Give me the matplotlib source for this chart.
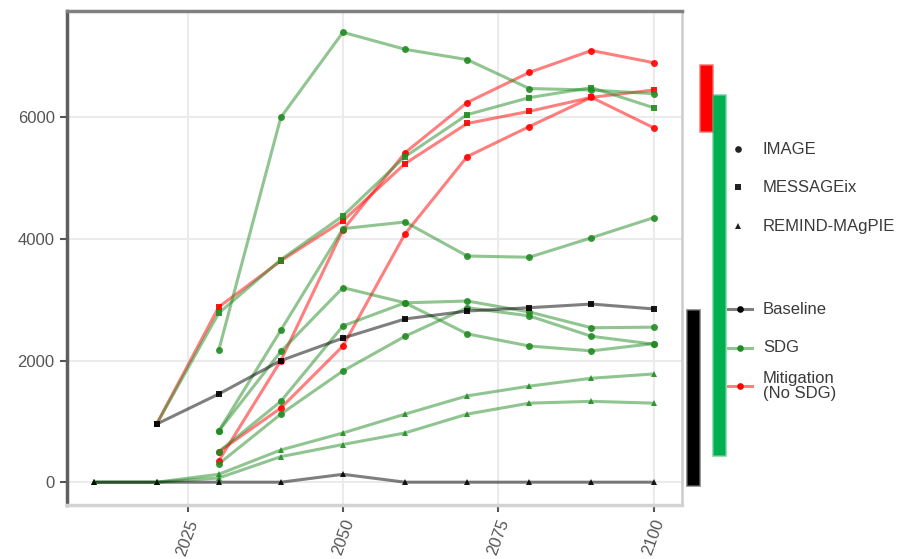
import numpy as np
import matplotlib
matplotlib.use("Agg")
import matplotlib.pyplot as plt
from matplotlib.lines import Line2D
from matplotlib.patches import Rectangle

plt.rcParams['font.family'] = ['Liberation Sans', 'DejaVu Sans']

nan = np.nan
years = [2010, 2020, 2030, 2040, 2050, 2060, 2070, 2080, 2090, 2100]

# Baseline runs
message_baseline = [nan, 955, 1450, 2000, 2370, 2685, 2815, 2870, 2930, 2850]
remind_baseline = [0, 0, 0, 0, 130, 0, 0, 0, 0, 0]

# SDG runs
message_sdg = [nan, 955, 2780, 3660, 4380, 5355, 6045, 6325, 6490, 6160]
remind_sdg_1 = [0, 0, 130, 530, 810, 1120, 1420, 1580, 1710, 1780]
remind_sdg_2 = [0, 0, 70, 420, 620, 810, 1120, 1300, 1330, 1300]
image_sdg_1 = [nan, nan, 2170, 6000, 7400, 7120, 6950, 6475, 6450, 6390]
image_sdg_2 = [nan, nan, 840, 2500, 4170, 4280, 3720, 3700, 4020, 4350]
image_sdg_3 = [nan, nan, 840, 2150, 3200, 2950, 2440, 2240, 2160, 2280]
image_sdg_4 = [nan, nan, 500, 1330, 2570, 2950, 2980, 2800, 2540, 2550]
image_sdg_5 = [nan, nan, 300, 1120, 1830, 2400, 2870, 2735, 2400, 2270]

# Mitigation (no SDG) runs
message_mitigation = [nan, 955, 2880, 3640, 4300, 5240, 5900, 6100, 6330, 6450]
image_mitigation_1 = [nan, nan, 350, 2000, 4150, 5420, 6245, 6740, 7100, 6900]
image_mitigation_2 = [nan, nan, 500, 1220, 2240, 4085, 5355, 5850, 6330, 5830]

# 2100 ranges per scenario group, shown as bars beside the panel
range_groups = ["Baseline", "Mitigation (No SDG)", "SDG"]
range_low = [-50, 5780, 445]
range_high = [2830, 6870, 6375]
range_x = [2106.3, 2108.4, 2110.6]
range_colors = ["#000000", "#FF0000", "#00B050"]

x_ticks = [2025, 2050, 2075, 2100]
y_ticks = [0, 2000, 4000, 6000]

# drawing order: mitigation, SDG, baseline
series = [
    ("MESSAGEix", "Mitigation (No SDG)", message_mitigation),
    ("IMAGE", "Mitigation (No SDG)", image_mitigation_1),
    ("IMAGE", "Mitigation (No SDG)", image_mitigation_2),
    ("MESSAGEix", "SDG", message_sdg),
    ("REMIND-MAgPIE", "SDG", remind_sdg_1),
    ("REMIND-MAgPIE", "SDG", remind_sdg_2),
    ("IMAGE", "SDG", image_sdg_1),
    ("IMAGE", "SDG", image_sdg_2),
    ("IMAGE", "SDG", image_sdg_3),
    ("IMAGE", "SDG", image_sdg_4),
    ("IMAGE", "SDG", image_sdg_5),
    ("MESSAGEix", "Baseline", message_baseline),
    ("REMIND-MAgPIE", "Baseline", remind_baseline),
]

colors = {"Baseline": "#000000", "SDG": "#228B22", "Mitigation (No SDG)": "#FF0000"}
markers = {"IMAGE": "o", "MESSAGEix": "s", "REMIND-MAgPIE": "^"}

W, H = 899, 559
fig = plt.figure(figsize=(W / 100, H / 100), dpi=100)
ax = fig.add_axes([66.5 / W, 1 - 505 / H, (681.5 - 66.5) / W, (505 - 11) / H])

ax.set_xlim(2005.5, 2104.5)
ax.set_ylim(-375, 7750)

# lines first, then points on top
for model, scen, vals in series:
    ax.plot(years, vals, color=colors[scen], alpha=0.5, lw=2.2,
            solid_capstyle='butt', zorder=2)
for model, scen, vals in series:
    ax.plot(years, vals, linestyle='none', marker=markers[model],
            markersize=4.8 if model != "IMAGE" else 5.0,
            color=colors[scen], markeredgewidth=0, alpha=0.9, zorder=3)

# range bars outside the panel
for lo, hi, xc, c in zip(range_low, range_high, range_x, range_colors):
    rect = Rectangle((xc - 0.95, lo), 1.9, hi - lo, facecolor=c,
                     edgecolor=(*matplotlib.colors.to_rgb(c), 0.45), lw=2.0,
                     clip_on=False, zorder=4)
    ax.add_patch(rect)

ax.set_xticks(x_ticks)
ax.set_yticks(y_ticks)
ax.set_xticklabels([str(t) for t in x_ticks], rotation=70, ha='center', va='top')
ax.grid(True, color='#ebebeb', lw=1.5)
ax.set_axisbelow(True)
ax.tick_params(axis='both', labelsize=12, labelcolor='#555555', color='#555555',
               width=1.5, length=5)
ax.tick_params(axis='x', pad=4)

ax.spines['left'].set_color('#5f5f5f')
ax.spines['left'].set_linewidth(2.5)
ax.spines['top'].set_color('#808080')
ax.spines['top'].set_linewidth(2.5)
ax.spines['right'].set_color('#cccccc')
ax.spines['right'].set_linewidth(1.8)
ax.spines['bottom'].set_color('#d3d3d3')
ax.spines['bottom'].set_linewidth(2.5)


def fx(px):
    return px / W


def fy(py):
    return 1 - py / H


# model (shape) legend
for label, mk, py in [("IMAGE", "o", 149), ("MESSAGEix", "s", 187), ("REMIND-MAgPIE", "^", 226)]:
    fig.add_artist(Line2D([fx(738)], [fy(py)], transform=fig.transFigure,
                          marker=mk, markersize=4.8, color='#222222',
                          markeredgewidth=0, linestyle='none'))
    fig.text(fx(763), fy(py), label, fontsize=12, color='#3a3a3a', va='center', ha='left')

# scenario (colour) legend
for label, scen, py in [("Baseline", "Baseline", 309), ("SDG", "SDG", 348),
                        ("Mitigation\n(No SDG)", "Mitigation (No SDG)", 386)]:
    c = colors[scen]
    fig.add_artist(Line2D([fx(728), fx(752)], [fy(py), fy(py)], transform=fig.transFigure,
                          color=c, alpha=0.5, lw=2.2))
    fig.add_artist(Line2D([fx(740)], [fy(py)], transform=fig.transFigure,
                          marker='o', markersize=4.8, color=c, markeredgewidth=0,
                          linestyle='none'))
    fig.text(fx(763), fy(py), label, fontsize=12, color='#3a3a3a', va='center',
             ha='left', linespacing=1.0)

fig.savefig("out.png", dpi=100)
